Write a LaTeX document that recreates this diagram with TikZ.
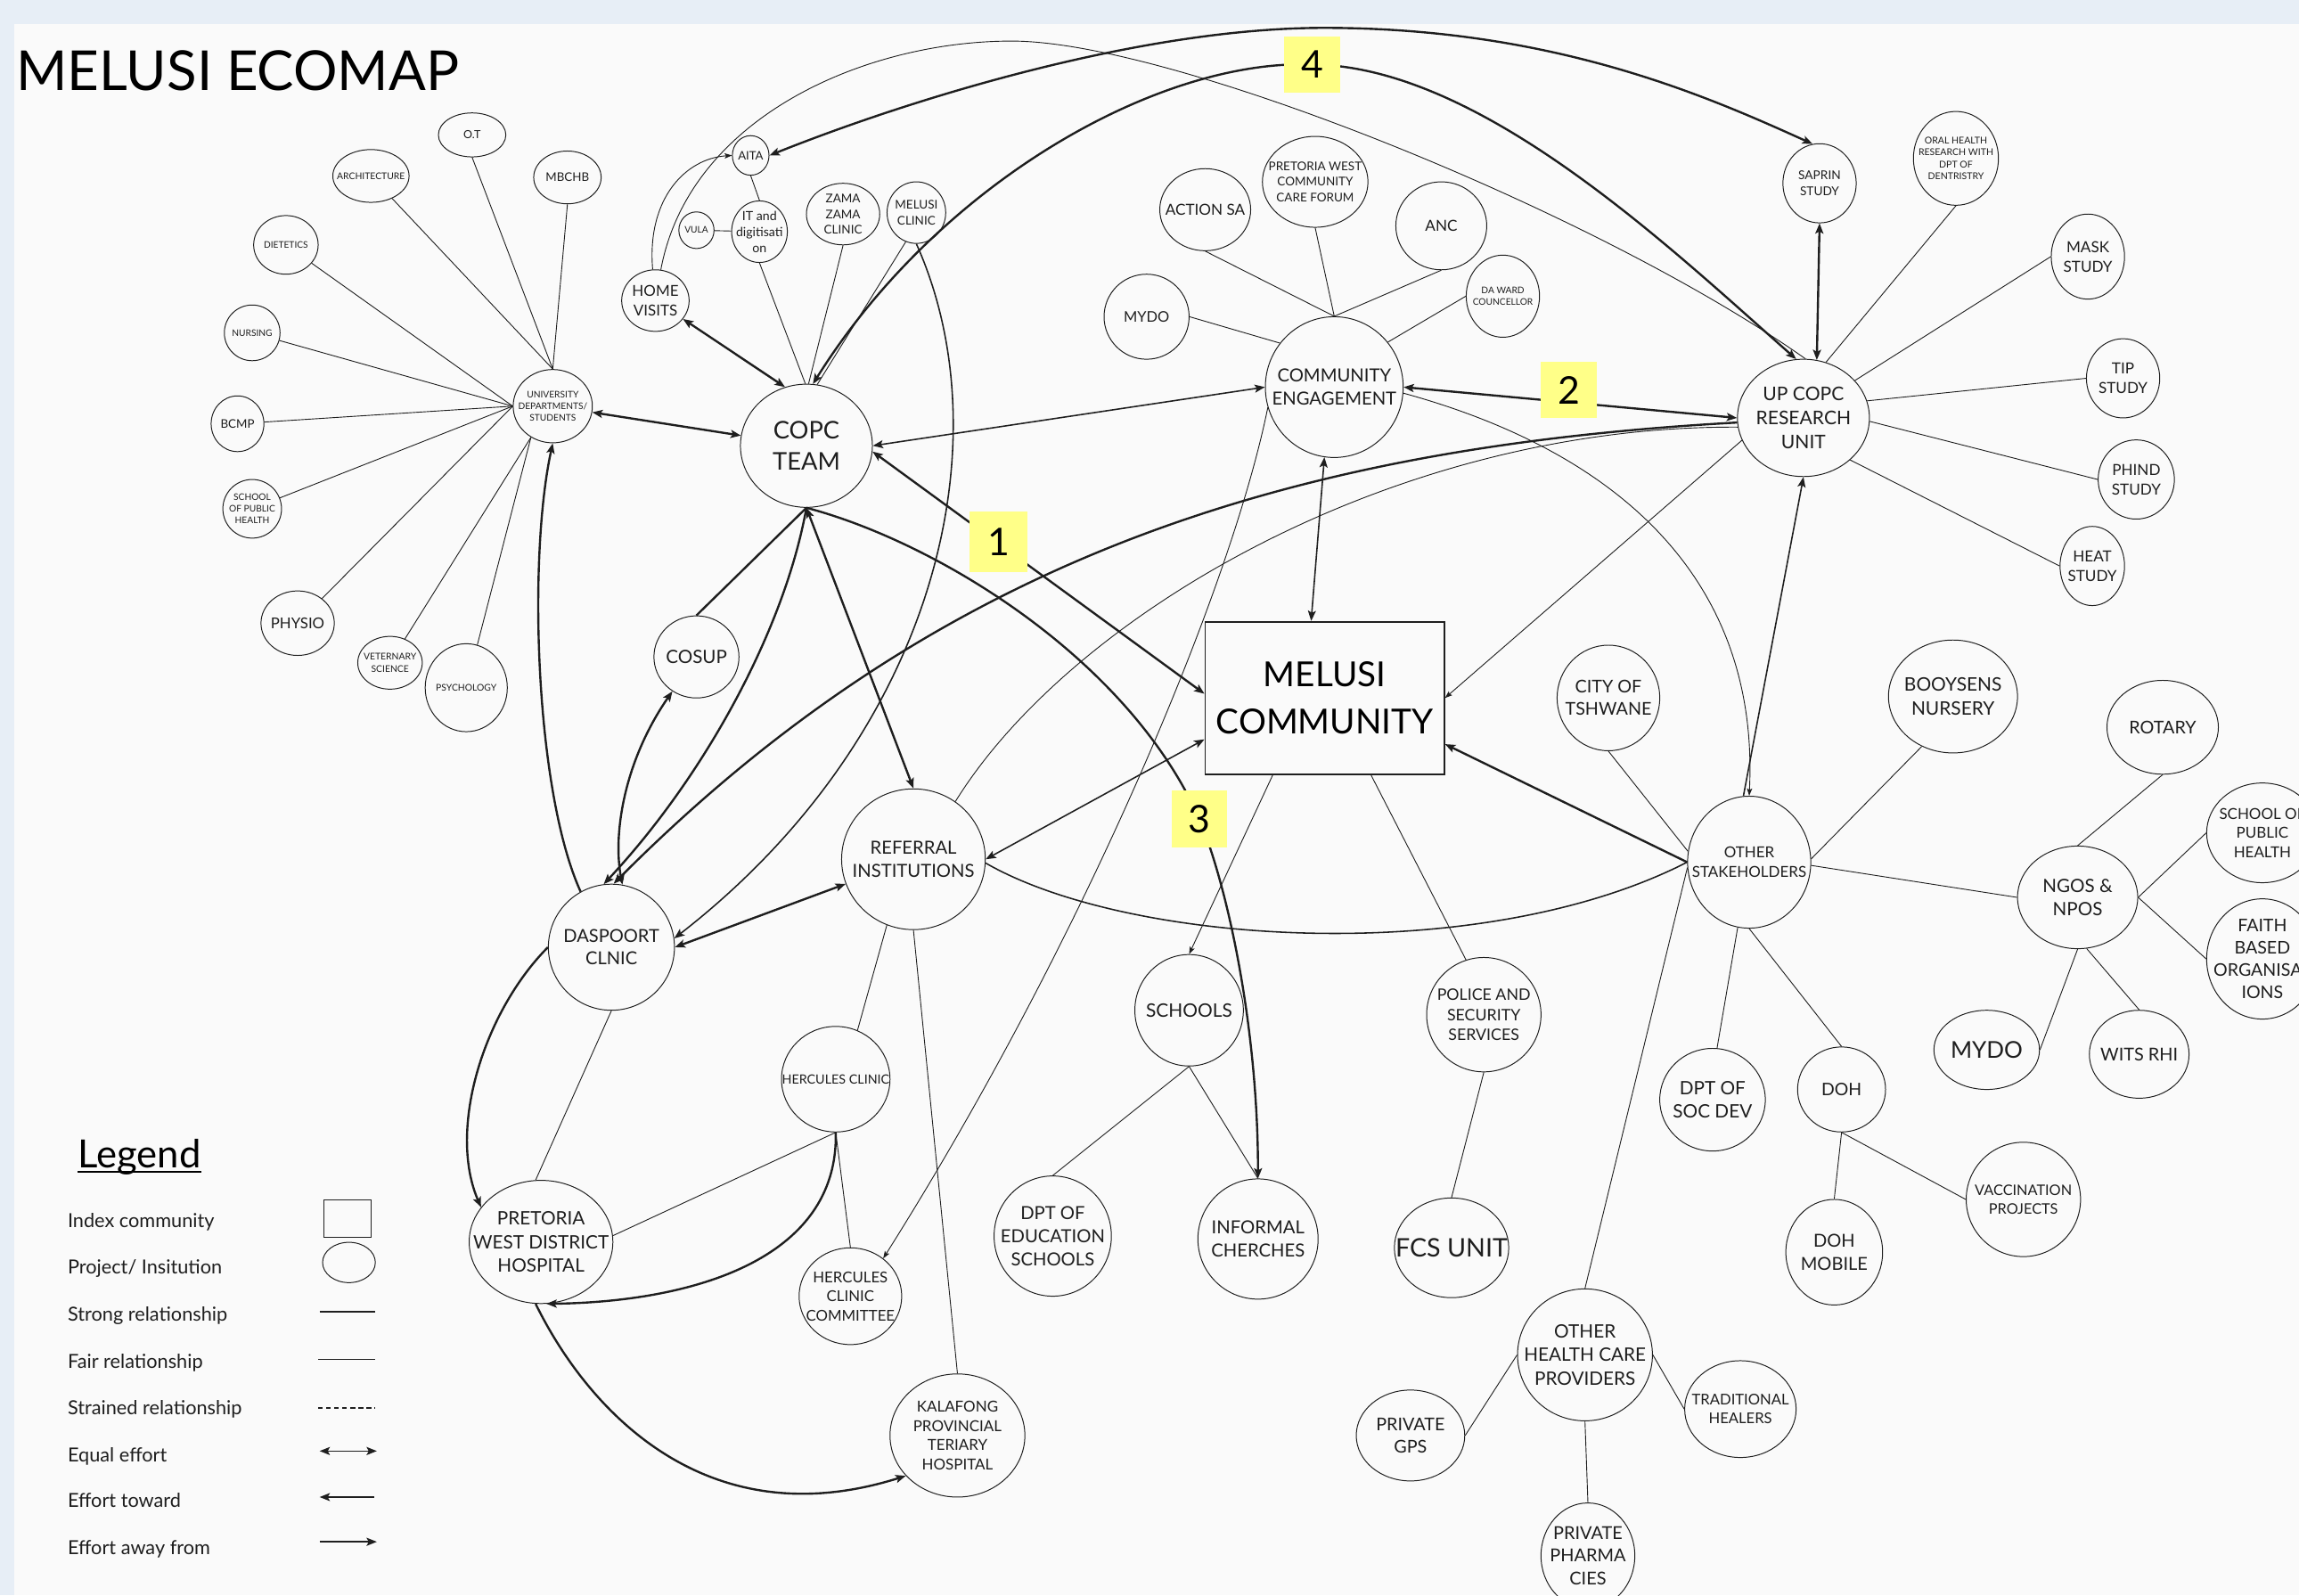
\documentclass[tikz,border=0pt]{standalone}
\usepackage{fontspec}
\setmainfont{Lato}
\usetikzlibrary{shapes.geometric, arrows.meta}
\pgfdeclarelayer{bg}
\pgfdeclarelayer{edges}
\pgfsetlayers{bg,edges,main}
\definecolor{bgout}{HTML}{E7EEF6}
\definecolor{canvas}{HTML}{FAFAFA}
\definecolor{hl}{HTML}{FFFF88}
\definecolor{ink}{HTML}{1E1E1E}
\newcommand\fs[1]{\fontsize{#1pt}{\dimexpr#1pt*128/100\relax}\selectfont}
\newcommand\mknode[7]{\node[ent, minimum width=#4, minimum height=#5, label={[lab,font=\fs{#6}]center:#7}] (#1) at (#2,#3) {};}
\begin{document}
\begin{tikzpicture}[x=1pt,y=-1pt,
  ent/.style={ellipse, draw=ink, line width=0.6pt, inner sep=0pt},
  lab/.style={align=center, inner sep=0pt, text=ink},
  hlbox/.style={fill=hl, inner sep=0pt, minimum width=38, minimum height=38, font=\fs{26}, text=black},
  fairline/.style={line width=0.55pt, draw=ink},
  medline/.style={line width=0.95pt, draw=ink},
  strongline/.style={line width=1.45pt, draw=ink},
  tipbig/.style={>={Stealth[length=7pt,width=5.5pt,inset=1.5pt]}},
  tipsmall/.style={>={Stealth[length=5pt,width=3.6pt,inset=1pt]}},
  legtxt/.style={anchor=base west, inner sep=0pt, font=\fs{13.2}, text=ink}
]
\begin{pgfonlayer}{bg}
\fill[bgout] (0,0) rectangle (1568,1088);
\fill[canvas] (10,16.5) rectangle (1568,1088);
\end{pgfonlayer}
\useasboundingbox (0,0) rectangle (1568,1088);

% title
\node[anchor=base west, inner sep=0pt, font=\fs{37.6}, text=black] (title) at (11,61.5) {MELUSI ECOMAP};

% university cluster
\mknode{ot}{322}{92}{46}{30}{7.6}{O.T}
\mknode{arch}{253}{120}{52}{36}{6.3}{ARCHITECTURE}
\mknode{mbchb}{387}{121}{46}{36}{8.1}{MBCHB}
\mknode{diet}{195}{167}{44}{40}{6.2}{DIETETICS}
\mknode{nurs}{172}{227}{38}{38}{6.2}{NURSING}
\mknode{bcmp}{162}{289}{36}{38}{8.1}{BCMP}
\mknode{sph1}{172}{347}{40}{40}{6.2}{SCHOOL\\OF PUBLIC\\HEALTH}
\mknode{univ}{377}{277}{54}{50}{6.2}{UNIVERSITY\\DEPARTMENTS/\\STUDENTS}
\mknode{physio}{203}{425}{50}{44}{10.2}{PHYSIO}
\mknode{vet}{266}{452}{44}{36}{6.3}{VETERNARY\\SCIENCE}
\mknode{psych}{318}{469}{56}{60}{6.3}{PSYCHOLOGY}

% copc cluster
\mknode{aita}{512}{106}{25}{27}{8}{AITA}
\mknode{vula}{475}{157}{24}{25}{6.2}{VULA}
\mknode{it}{518}{158}{38}{42}{8.6}{IT and\\digitisati\\on}
\mknode{zama}{575}{146}{50}{42}{8.2}{ZAMA\\ZAMA\\CLINIC}
\mknode{mclinic}{625}{145}{40}{42}{8.2}{MELUSI\\CLINIC}
\mknode{home}{447}{205}{46}{42}{10.3}{HOME\\VISITS}
\mknode{copc}{550}{304}{90}{84}{16.6}{COPC\\TEAM}
\mknode{cosup}{475}{448}{58}{56}{12.5}{COSUP}
\mknode{dasp}{417}{646}{86}{86}{12.2}{DASPOORT\\CLNIC}
\mknode{ref}{623}{586}{98}{96}{12.3}{REFERRAL\\INSTITUTIONS}
\mknode{pwdh}{369}{847}{98}{84}{12.6}{PRETORIA\\WEST DISTRICT\\HOSPITAL}
\mknode{herc}{570}{736}{74}{72}{8.7}{HERCULES CLINIC}
\mknode{hcc}{580}{884}{70}{66}{10.2}{HERCULES\\CLINIC\\COMMITTEE}
\mknode{kal}{653}{979}{92}{84}{10.3}{KALAFONG\\PROVINCIAL\\TERIARY\\HOSPITAL}

% community engagement cluster
\mknode{action}{822}{143}{62}{56}{10.4}{ACTION SA}
\mknode{pwccf}{897}{124}{72}{62}{8.2}{PRETORIA WEST\\COMMUNITY\\CARE FORUM}
\mknode{anc}{983}{154}{62}{60}{10.4}{ANC}
\mknode{mydo1}{782}{216}{58}{58}{10}{MYDO}
\mknode{daward}{1025}{202}{50}{56}{6.2}{DA WARD\\COUNCELLOR}
\mknode{ce}{910}{264}{94}{96}{12.3}{COMMUNITY\\ENGAGEMENT}

% index community
\node[draw=ink, line width=1.1pt, minimum width=163, minimum height=104, inner sep=0pt, align=center,
  font=\fontsize{23.5pt}{32.6pt}\selectfont, text=black] (mc) at (903.5,476) {MELUSI\\COMMUNITY};

% research cluster
\mknode{saprin}{1241}{125}{50}{54}{8.3}{SAPRIN\\STUDY}
\mknode{oral}{1334}{108}{58}{64}{6.4}{ORAL HEALTH\\RESEARCH WITH\\DPT OF\\DENTRISTRY}
\mknode{mask}{1424}{175}{50}{58}{10.4}{MASK\\STUDY}
\mknode{tip}{1448}{258}{50}{54}{10.4}{TIP\\STUDY}
\mknode{phind}{1457}{327}{52}{54}{10.4}{PHIND\\STUDY}
\mknode{heat}{1427}{386}{44}{54}{10.4}{HEAT\\STUDY}
\mknode{upcopc}{1230}{285}{90}{80}{12.8}{UP COPC\\RESEARCH\\UNIT}

% stakeholders
\mknode{city}{1097}{476}{70}{72}{12}{CITY OF\\TSHWANE}
\mknode{boo}{1332}{475}{88}{77}{12.7}{BOOYSENS\\NURSERY}
\mknode{rotary}{1475}{496}{76}{64}{12}{ROTARY}
\mknode{os}{1193}{588}{84}{90}{10.3}{OTHER\\STAKEHOLDERS}
\mknode{ngos}{1417}{612}{82}{70}{12.5}{NGOS \&\\NPOS}
\mknode{sph2}{1543}{568}{76}{68}{10.3}{SCHOOL OF\\PUBLIC\\HEALTH}
\mknode{faith}{1543}{654}{76}{82}{11.9}{FAITH\\BASED\\ORGANISAT\\IONS}
\mknode{mydo2}{1355}{716}{72}{54}{15.8}{MYDO}
\mknode{wits}{1459}{719}{68}{60}{12.1}{WITS RHI}
\mknode{schools}{811}{689}{74}{76}{12.7}{SCHOOLS}
\mknode{police}{1012}{692}{78}{78}{10.8}{POLICE AND\\SECURITY\\SERVICES}
\mknode{socdev}{1168}{750}{72}{70}{12.6}{DPT OF\\SOC DEV}
\mknode{doh}{1256}{743}{60}{58}{11.8}{DOH}
\mknode{vacc}{1380}{818}{78}{78}{9.9}{VACCINATION\\PROJECTS}
\mknode{dohm}{1251}{854}{66}{72}{12.2}{DOH\\MOBILE}
\mknode{dpte}{718}{843}{80}{82}{12.3}{DPT OF\\EDUCATION\\SCHOOLS}
\mknode{inf}{858}{845}{82}{82}{12.3}{INFORMAL\\CHERCHES}
\mknode{fcs}{990}{851}{78}{68}{17.4}{FCS UNIT}
\mknode{ohc}{1081}{924}{92}{90}{12.6}{OTHER\\HEALTH CARE\\PROVIDERS}
\mknode{gps}{962}{979}{74}{62}{12}{PRIVATE\\GPS}
\mknode{trad}{1187}{961}{76}{66}{10.1}{TRADITIONAL\\HEALERS}
\mknode{pharma}{1083}{1061}{64}{72}{12.1}{PRIVATE\\PHARMA\\CIES}

% number labels
\node[hlbox] (l4) at (895,44) {4};
\node[hlbox] (l2) at (1070,266) {2};
\node[hlbox, minimum width=40, minimum height=41] (l1) at (681,369.5) {1};
\node[hlbox, minimum height=39] (l3) at (818,558.5) {3};

\begin{pgfonlayer}{edges}
% university spokes
\draw[fairline] (mbchb.south) -- (univ.north);
\draw[fairline] (ot.south) -- (univ.north);
\draw[fairline] (arch) -- (univ.north);
\draw[fairline] (diet) -- (univ.west);
\draw[fairline] (nurs) -- (univ.west);
\draw[fairline] (bcmp) -- (univ.west);
\draw[fairline] (sph1) -- (univ.west);
\draw[fairline] (physio) -- (univ.west);
\draw[fairline] (vet) -- (univ.235);
\draw[fairline] (psych) -- (univ.235);

% copc cluster
\draw[strongline,tipbig,<->] (univ) -- (copc);
\draw[strongline,tipbig,<->] (home) -- (copc.110);
\draw[fairline] (aita.south) -- (it.north);
\draw[fairline] (vula) -- (it);
\draw[fairline] (it.south) -- (copc.91);
\draw[fairline] (zama.south) -- (copc.88);
\draw[fairline] (mclinic.250) -- (copc.80);
\draw[fairline,tipsmall,->] (home.95) .. controls (441,135) and (468,108) .. (aita.west);
\draw[fairline] (home.80) .. controls (470,80) and (590,28) .. (690,28) .. controls (800,28) and (1090,145) .. (upcopc.88);
\draw[strongline,tipbig,<->] (copc.84) .. controls (640,125) and (790,40) .. (l4.center) .. controls (1010,45) and (1140,170) .. (upcopc.97);
\draw[strongline,tipbig,<->] (aita.east) .. controls (625,66) and (780,19) .. (903,19) .. controls (1060,19) and (1165,66) .. (saprin.100);
\draw[medline,tipbig,->] (mclinic.south) .. controls (685,300) and (640,500) .. (dasp.8);
\draw[strongline,tipbig,->] (copc.south) .. controls (535,430) and (480,530) .. (dasp.97);
\draw[strongline,tipbig,<->] (cosup.235) .. controls (425,520) and (418,570) .. (dasp.80);
\draw[strongline] (cosup.north) -- (copc.south);
\draw[strongline,tipbig,<->] (copc.south) -- (ref.north);
\draw[strongline,tipbig,->] (copc.south) .. controls (640,370) and (770,450) .. (l3.center) .. controls (837,604) and (858,700) .. (inf.north);
\draw[strongline,tipbig,<->] (copc.-5) -- (mc.178);
\draw[medline,tipbig,<->] (ce.west) -- (copc.0);
\draw[strongline,tipbig,<->] (ce.east) -- (upcopc.180);
\draw[strongline,tipbig,->] (upcopc.184) .. controls (880,305) and (640,380) .. (dasp.88);
\draw[fairline] (ref.54) .. controls (730,420) and (950,290) .. (upcopc.188);
\draw[fairline,tipsmall,->] (upcopc.200) -- (mc.east);
\draw[strongline,tipbig,->] (os.west) -- (mc.-21);
\draw[medline,tipbig,->] (os.95) -- (upcopc.south);
\draw[fairline,tipsmall,->] (ce.-5) .. controls (1110,310) and (1200,400) .. (os.north);
\draw[medline,tipbig,<->] (ref.east) -- (mc.199);
\draw[medline] (ref.-3) .. controls (770,645) and (1010,660) .. (os.west);
\draw[medline,tipbig,<->] (ce.-98) -- (mc.100);
\draw[fairline,tipsmall,->] (ce.197) .. controls (840,400) and (740,640) .. (hcc.49);
\draw[fairline,tipsmall,->] (mc.236) -- (schools.north);
\draw[fairline] (mc.-59) -- (police.108);
\draw[fairline] (schools.south) -- (dpte.north);
\draw[fairline] (schools.south) -- (inf.north);
\draw[fairline] (police.south) -- (fcs.north);
\draw[strongline,tipbig,<->] (dasp.east) -- (ref.200);
\draw[strongline,tipbig,->] (dasp.119) .. controls (365,540) and (360,380) .. (univ.south);
\draw[strongline,tipbig,->] (dasp.west) .. controls (330,690) and (305,770) .. (pwdh.150);
\draw[fairline] (dasp.south) -- (pwdh.95);
\draw[fairline] (pwdh.5) -- (herc.south);
\draw[strongline,tipbig,->] (herc.south) .. controls (572,860) and (470,888) .. (pwdh.275);
\draw[fairline] (herc.south) -- (hcc.north);
\draw[fairline] (ref.248) -- (herc.66);
\draw[fairline] (ref.south) -- (kal.north);
\draw[strongline,tipbig,->] (pwdh.265) .. controls (400,960) and (480,1050) .. (kal.218);

% community engagement spokes
\draw[fairline] (mydo1.east) -- (ce.141);
\draw[fairline] (action.south) -- (ce.north);
\draw[fairline] (pwccf.south) -- (ce.north);
\draw[fairline] (anc.south) -- (ce.north);
\draw[fairline] (daward.west) -- (ce.40);

% research spokes
\draw[strongline,tipbig,<->] (saprin.south) -- (upcopc.77);
\draw[fairline] (oral.south) -- (upcopc.68);
\draw[fairline] (mask.west) -- (upcopc.36);
\draw[fairline] (tip.west) -- (upcopc.15);
\draw[fairline] (phind.west) -- (upcopc.-3);
\draw[fairline] (heat.west) -- (upcopc.-42);

% stakeholders
\draw[fairline] (city.south) -- (os.170);
\draw[fairline] (boo.238) -- (os.3);
\draw[fairline] (os.-3) -- (ngos.west);
\draw[fairline] (os.185) -- (ohc.north);
\draw[fairline] (os.260) -- (socdev.85);
\draw[fairline] (os.south) -- (doh.north);
\draw[fairline] (doh.south) -- (dohm.north);
\draw[fairline] (doh.south) -- (vacc.west);
\draw[fairline] (ohc.west) -- (gps.east);
\draw[fairline] (ohc.east) -- (trad.west);
\draw[fairline] (ohc.south) -- (pharma.north);
\draw[fairline] (ngos.north) -- (rotary.south);
\draw[fairline] (ngos.east) -- (sph2.west);
\draw[fairline] (ngos.east) -- (faith.west);
\draw[fairline] (ngos.south) -- (mydo2.east);
\draw[fairline] (ngos.-80) -- (wits.north);
\end{pgfonlayer}

% legend
\node[anchor=base west, inner sep=0pt, font=\fs{26.5}, text=black] (leg) at (53,796.5) {Legend};
\draw[line width=1.1pt, draw=black] ([yshift=-2.5pt]leg.base west) -- ([yshift=-2.5pt]leg.base east);
\node[legtxt] (li1) at (46,837) {Index community};
\node[legtxt] (li2) at (46,868.6) {Project/ Insitution};
\node[legtxt] (li3) at (46,901) {Strong relationship};
\node[legtxt] (li4) at (46,933) {Fair relationship};
\node[legtxt] (li5) at (46,965) {Strained relationship};
\node[legtxt] (li6) at (46,997) {Equal effort};
\node[legtxt] (li7) at (46,1028) {Effort toward};
\node[legtxt] (li8) at (46,1060) {Effort away from};
\node[draw=ink, line width=0.6pt, minimum width=32, minimum height=25.5, inner sep=0pt] (lrect) at (237,831.3) {};
\node[ent, minimum width=36, minimum height=27.5] (lell) at (238,861) {};
\coordinate (ls1) at (218,894.6); \coordinate (ls2) at (256,894.6);
\coordinate (lf1) at (217,927); \coordinate (lf2) at (256,927);
\coordinate (ld1) at (217,960); \coordinate (ld2) at (256,960);
\coordinate (le1) at (218,989.6); \coordinate (le2) at (257,989.6);
\coordinate (lt1) at (218,1021); \coordinate (lt2) at (255,1021);
\coordinate (la1) at (218,1051.5); \coordinate (la2) at (257,1051.5);
\draw[strongline] (ls1) -- (ls2);
\draw[fairline] (lf1) -- (lf2);
\draw[line width=1.2pt, draw=ink, dash pattern=on 3.2pt off 2.3pt] (ld1) -- (ld2);
\draw[medline,tipbig,<->] (le1) -- (le2);
\draw[medline,tipbig,<-] (lt1) -- (lt2);
\draw[medline,tipbig,->] (la1) -- (la2);
\end{tikzpicture}
\end{document}
